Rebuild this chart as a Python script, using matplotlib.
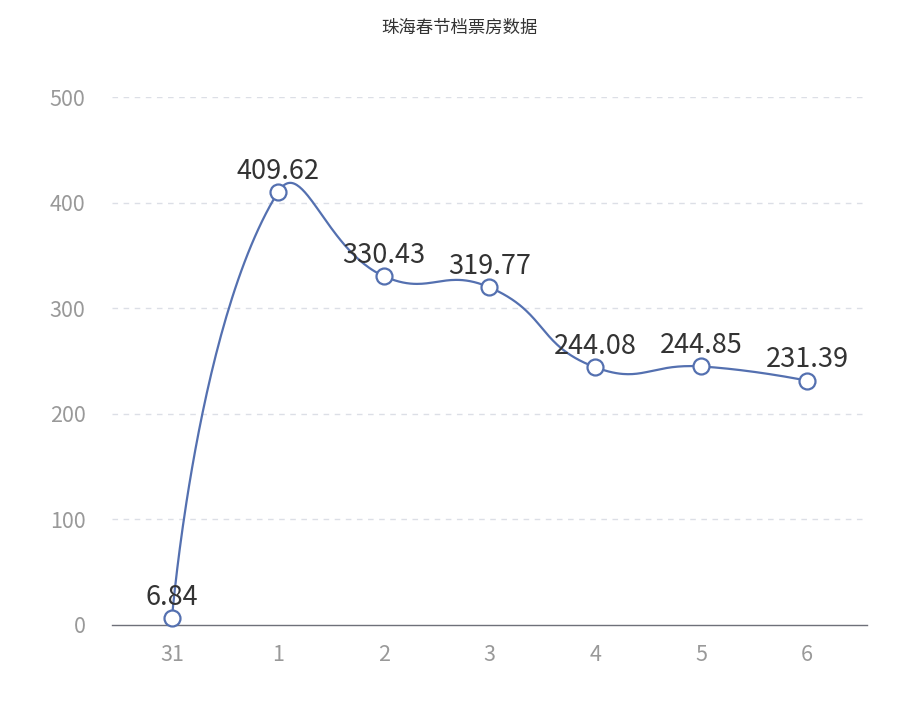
import matplotlib
matplotlib.use('Agg')
import matplotlib.pyplot as plt
import numpy as np

plt.rcParams['font.family'] = ['Noto Sans CJK SC', 'DejaVu Sans']

days = ['31', '1', '2', '3', '4', '5', '6']
box_office = [6.84, 409.62, 330.43, 319.77, 244.08, 244.85, 231.39]
title = '珠海春节档票房数据'

line_color = '#5470b0'


def smooth_path(xs, ys, sx, sy, smooth=0.5, n=60):
    # echarts-like bezier smoothing, done in pixel-ish space
    px = np.asarray(xs, float) * sx
    py = np.asarray(ys, float) * sy
    m = len(px)
    cps = []
    for i in range(m):
        prv = max(i - 1, 0)
        nxt = min(i + 1, m - 1)
        vx, vy = px[nxt] - px[prv], py[nxt] - py[prv]
        d0 = np.hypot(px[i] - px[prv], py[i] - py[prv])
        d1 = np.hypot(px[nxt] - px[i], py[nxt] - py[i])
        r = d1 / (d0 + d1) if d0 + d1 > 0 else 0.5
        cin = (px[i] - vx * smooth * (1 - r), py[i] - vy * smooth * (1 - r))
        cout = (px[i] + vx * smooth * r, py[i] + vy * smooth * r)
        cps.append((cin, cout))
    cps[0] = ((px[0], py[0]), (px[0], py[0]))
    cps[-1] = ((px[-1], py[-1]), (px[-1], py[-1]))
    t = np.linspace(0, 1, n)[:, None]
    out = []
    for i in range(m - 1):
        p0 = np.array([px[i], py[i]])
        c0 = np.array(cps[i][1])
        c1 = np.array(cps[i + 1][0])
        p1 = np.array([px[i + 1], py[i + 1]])
        seg = (1 - t) ** 3 * p0 + 3 * (1 - t) ** 2 * t * c0 + 3 * (1 - t) * t ** 2 * c1 + t ** 3 * p1
        out.append(seg)
    pts = np.vstack(out)
    return pts[:, 0] / sx, pts[:, 1] / sy


fig = plt.figure(figsize=(9, 7.15), dpi=100)
ax = fig.add_axes([0.1244, 0.1259, 0.8389, 0.7384])

x = np.arange(len(days))
cx, cy = smooth_path(x, box_office, 105.8, 1.056)
ax.plot(cx, cy, color=line_color, lw=1.6, zorder=3, clip_on=False)
ax.plot(x, box_office, 'o', ms=11.5, mfc='white', mec=line_color, mew=1.6,
        zorder=4, clip_on=False)

for xi, v in zip(x, box_office):
    ax.annotate(f'{v:.2f}', (xi, v), xytext=(0, 9.5), textcoords='offset points',
                ha='center', va='baseline', fontsize=19.5, color='#333333', zorder=5)

ax.set_xlim(-0.567, 6.567)
ax.set_ylim(0, 500)
ax.set_yticks([0, 100, 200, 300, 400, 500])
ax.set_xticks(x)
ax.set_xticklabels(days)
ax.tick_params(axis='both', length=0, labelsize=15.5, colors='#999999')
ax.tick_params(axis='y', pad=19)
ax.tick_params(axis='x', pad=14)

for yv in [100, 200, 300, 400, 500]:
    ax.axhline(yv, color='#dcdfe6', lw=1, ls=(0, (4, 4)), zorder=1)

for s in ['top', 'right', 'left']:
    ax.spines[s].set_visible(False)
ax.spines['bottom'].set_color('#6e7079')
ax.spines['bottom'].set_linewidth(1)

fig.text(0.51, 1 - 28 / 715, title, ha='center', va='center', fontsize=12.5, color='#333333')

fig.savefig('out.png', dpi=100)
